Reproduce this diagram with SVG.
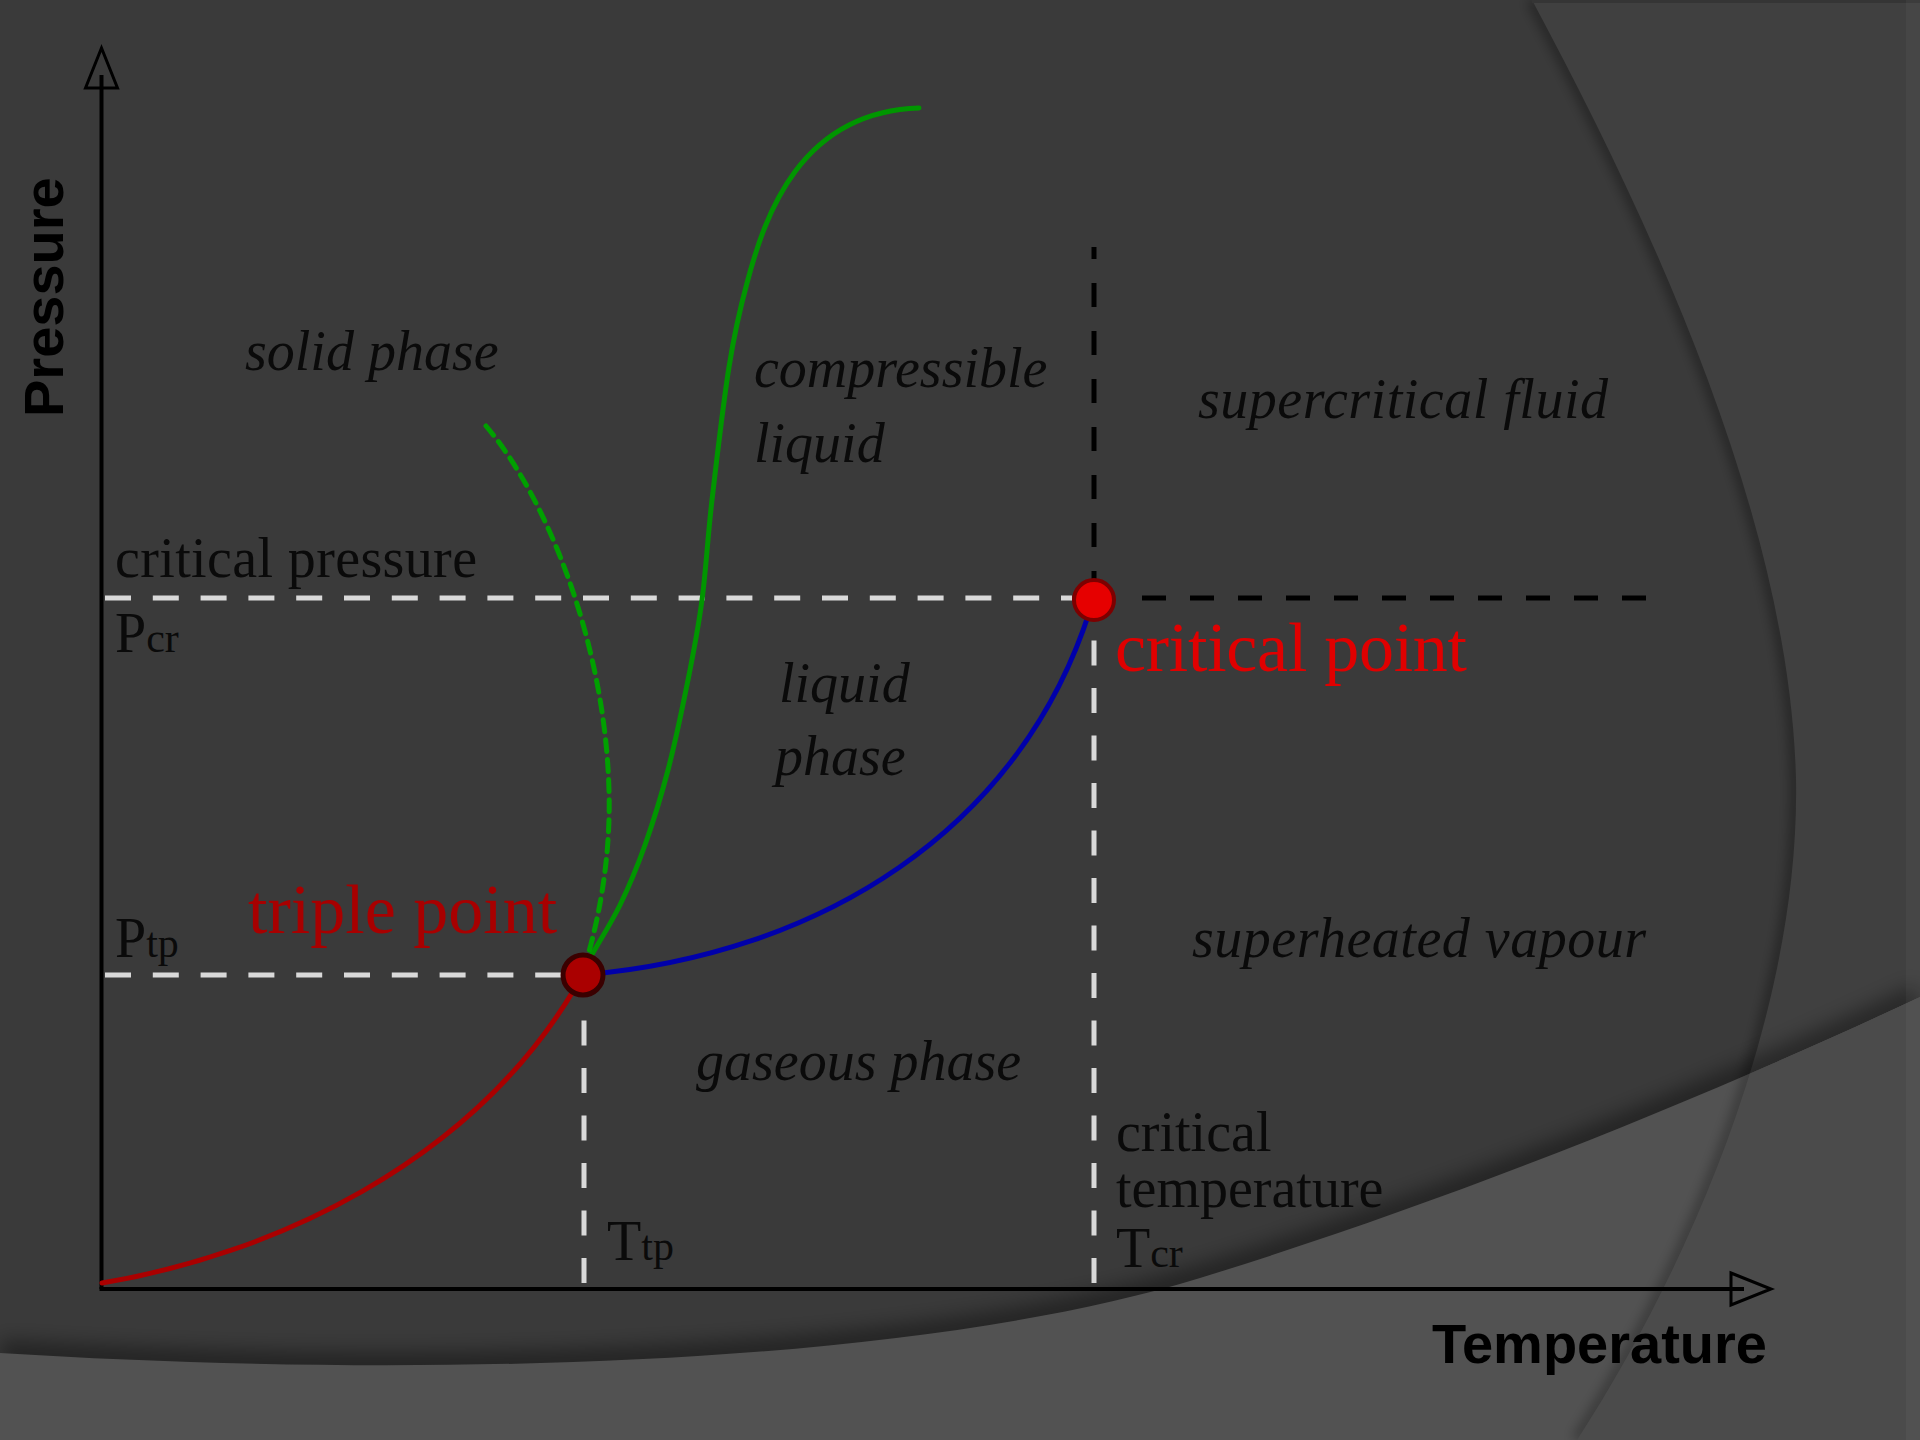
<svg xmlns="http://www.w3.org/2000/svg" width="1920" height="1440" viewBox="0 0 1920 1440">
<style>
.it{font-family:"Liberation Serif","Times New Roman",serif;font-style:italic;font-size:56px;fill:#0a0a0a}
.rm{font-family:"Liberation Serif","Times New Roman",serif;font-size:56px;fill:#0a0a0a}
.sub{font-size:42px}
.ax{font-family:"Liberation Sans",Arial,sans-serif;font-weight:bold;font-size:56px;fill:#000}
.pt{font-family:"Liberation Serif","Times New Roman",serif;font-size:70px}
.wd{stroke:#d9d9d9;stroke-width:5;fill:none}
.bd{stroke:#000;stroke-width:5;fill:none;stroke-dasharray:24 24}
.axis{stroke:#000;stroke-width:4;fill:none;marker-end:url(#openArrow)}
.curve{fill:none;stroke-width:5;stroke-linecap:round}
</style>
<defs>
<marker id="openArrow" markerUnits="userSpaceOnUse" markerWidth="50" markerHeight="40" viewBox="-3 -20 48 40" refX="13" refY="0" orient="auto">
<path d="M0,-16 L40,0 L0,16 Z" fill="none" stroke="#000" stroke-width="3"/>
</marker>
<filter id="blur6" x="-5%" y="-5%" width="110%" height="110%"><feGaussianBlur stdDeviation="6"/></filter>
<filter id="blur10" x="-5%" y="-10%" width="110%" height="120%"><feGaussianBlur stdDeviation="10"/></filter>
<clipPath id="bottomClip"><path d="M0,1353 C400,1378 900,1370 1200,1278 C1450,1201 1700,1100 1920,997 L1920,1440 L0,1440 Z"/></clipPath>
</defs>

<g id="background">
<rect x="0" y="0" width="1920" height="1440" fill="#3a3a3a"/>
<path d="M1532,0 C1650,220 1790,520 1796,780 C1800,1000 1700,1250 1577,1440" fill="none" stroke="#000" stroke-opacity="0.35" stroke-width="12" filter="url(#blur6)"/>
<path d="M1532,0 C1650,220 1790,520 1796,780 C1800,1000 1700,1250 1577,1440 L1920,1440 L1920,0 Z" fill="#404040"/>
<line x1="1532" y1="1.5" x2="1920" y2="1.5" stroke="#353535" stroke-width="3"/>
<path d="M0,1353 C400,1378 900,1370 1200,1278 C1450,1201 1700,1100 1920,997" fill="none" stroke="#000" stroke-opacity="0.4" stroke-width="26" filter="url(#blur10)"/>
<path d="M0,1353 C400,1378 900,1370 1200,1278 C1450,1201 1700,1100 1920,997 L1920,1440 L0,1440 Z" fill="#525252"/>
<g clip-path="url(#bottomClip)">
<path d="M1532,0 C1650,220 1790,520 1796,780 C1800,1000 1700,1250 1577,1440" fill="none" stroke="#000" stroke-opacity="0.3" stroke-width="12" filter="url(#blur6)"/>
<path d="M1532,0 C1650,220 1790,520 1796,780 C1800,1000 1700,1250 1577,1440 L1920,1440 L1920,0 Z" fill="#4b4b4b"/>
</g>
<rect x="1906" y="0" width="14" height="1440" fill="#fff" fill-opacity="0.035"/>
</g>

<g id="guides">
<line class="wd" x1="105" y1="598" x2="1072" y2="598" stroke-dasharray="26 21.8"/>
<line class="wd" x1="105" y1="975" x2="562" y2="975" stroke-dasharray="26 21.8"/>
<line class="bd" x1="1142" y1="598" x2="1646" y2="598"/>
<line class="bd" x1="1094" y1="595" x2="1094" y2="247"/>
<line class="wd" x1="1094" y1="1283" x2="1094" y2="630" stroke-dasharray="25 22.5"/>
<line class="wd" x1="584" y1="1283" x2="584" y2="1015" stroke-dasharray="25 22.5"/>
</g>

<g id="axes">
<line class="axis" x1="101.5" y1="1289" x2="101.5" y2="75"/>
<line class="axis" x1="99.5" y1="1289" x2="1744" y2="1289"/>
<text class="ax" transform="translate(63,417) rotate(-90)">Pressure</text>
<text class="ax" x="1767" y="1363" text-anchor="end">Temperature</text>
</g>

<g id="phase-curves">
<path id="sublimation" class="curve" d="M102,1283 C270,1255 470,1165 575,988" stroke="#aa0000"/>
<path id="vaporization" class="curve" d="M583,975 C820,955 1020,830 1090,610" stroke="#0000aa"/>
<path id="melting" class="curve" stroke="#009600" stroke-width="4" d="M590,958 C600,940.3 610.8,923.8 620,905 C629.2,886.2 637,867.5 645,845 C653,822.5 660.8,797.5 668,770 C675.2,742.5 682.3,708.3 688,680 C693.7,651.7 698,630 702,600 C706,570 707.5,538.8 712,500 C716.5,461.2 723.2,403.2 729,367 C734.8,330.8 740.2,308 747,283 C765,215 800,112 919,108"/>
<path id="melting-anomalous" class="curve" d="M486,426 C545,495 605,640 609,790 C611,860 598,920 588,955" stroke="#00a000" stroke-width="4.5" stroke-linecap="butt" stroke-dasharray="12 8"/>
</g>

<g id="triple-point">
<circle cx="583" cy="975" r="20" fill="#aa0000" stroke="#3a0000" stroke-width="5"/>
<text class="pt" x="248" y="933" fill="#a80000">triple point</text>
</g>

<g id="critical-point">
<circle cx="1094" cy="600" r="20" fill="#e60000" stroke="#7d0000" stroke-width="4"/>
<text class="pt" x="1115" y="671" fill="#e00000" textLength="352">critical point</text>
</g>

<g id="labels">
<text class="it" x="245" y="370">solid phase</text>
<text class="it" x="754" y="387">compressible</text>
<text class="it" x="754" y="462">liquid</text>
<text class="it" x="1198" y="418" textLength="410">supercritical fluid</text>
<text class="it" x="779" y="702">liquid</text>
<text class="it" x="775" y="775">phase</text>
<text class="it" x="696" y="1080">gaseous phase</text>
<text class="it" x="1192" y="957" textLength="454">superheated vapour</text>
<text class="rm" x="115" y="577" textLength="362">critical pressure</text>
<text class="rm" x="115" y="652">P<tspan class="sub">cr</tspan></text>
<text class="rm" x="115" y="957">P<tspan class="sub">tp</tspan></text>
<text class="rm" x="607" y="1260">T<tspan class="sub">tp</tspan></text>
<text class="rm" x="1116" y="1151">critical</text>
<text class="rm" x="1116" y="1207">temperature</text>
<text class="rm" x="1116" y="1267">T<tspan class="sub">cr</tspan></text>
</g>
</svg>
